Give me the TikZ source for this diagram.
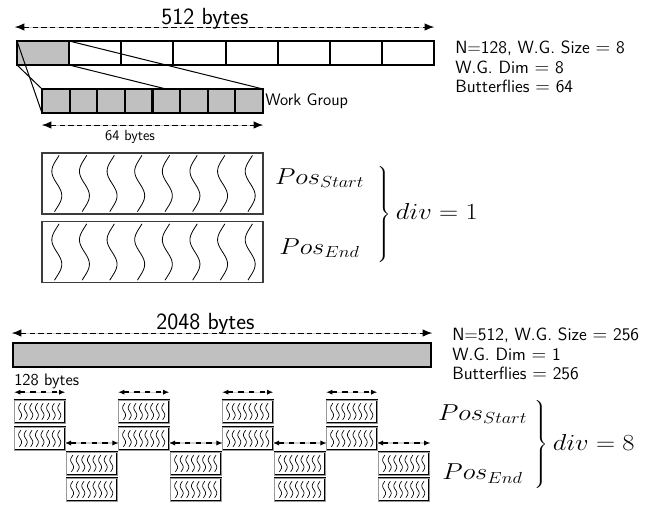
\documentclass[tikz,border=0pt]{standalone}
\usetikzlibrary{arrows.meta,calc}
\definecolor{cellfill}{HTML}{C0C0C0}
\definecolor{dashbg}{HTML}{D2D2D2}
\definecolor{boxline}{HTML}{3C3C3C}
\pgfdeclarelayer{front}
\pgfsetlayers{main,front}
\tikzset{
  cell/.style={draw,line width=1.5pt,inner sep=0pt,outer sep=0pt,
    minimum width=39.1pt,minimum height=18pt},
  wgcell/.style={cell,fill=cellfill,minimum width=20.7pt},
  flybox/.style={draw=boxline,line width=0.9pt,inner sep=0pt,outer sep=0pt,
    minimum width=165.75pt,minimum height=45.75pt},
  minibox/.style={draw=black,double=black!40,line width=0.4pt,double distance=0.5pt,
    inner sep=0pt,outer sep=0pt,minimum width=38pt,minimum height=17pt},
  wave/.style={line width=0.6pt,smooth,samples=25,variable=\t,domain=-1.15:1.15},
  measure/.style={draw=black,line width=0.6pt,dash pattern=on 4pt off 2.5pt,
    preaction={draw=dashbg,solid,-},
    {Latex[length=7pt,width=5.5pt]}-{Latex[length=7pt,width=5.5pt]}},
  gapspan/.style={draw=black,line width=1.2pt,dash pattern=on 4pt off 4pt,
    preaction={draw=dashbg,solid,line width=0.8pt,-},
    {Latex[length=4.5pt,width=4pt]}-{Latex[length=4.5pt,width=4pt]}},
  headline/.style={font=\sffamily\fontsize{17.5}{20}\selectfont,inner sep=0pt},
  note/.style={font=\sffamily\fontsize{13.3}{14.6}\selectfont,align=left,
    anchor=north west,inner sep=0pt},
  tag/.style={font=\sffamily\fontsize{12.5}{15}\selectfont,inner sep=1.5pt},
  smalltag/.style={font=\sffamily\fontsize{11}{13}\selectfont,inner sep=0pt},
  posgroup/.style={font=\fontsize{16.5}{20}\selectfont,inner sep=0pt,anchor=west}
}
\newcommand{\widen}[1]{\scalebox{1.15}[1]{#1}}

\begin{document}
\begin{tikzpicture}[x=0.75pt,y=-0.75pt]
\useasboundingbox (0,0) rectangle (655,508);

% ---- N = 128 : one row of 512 bytes, split in eight work groups
\foreach \i in {0,...,7} {
  \node[cell] (top\i) at ({17+52.125*(\i+0.5)},53) {};
}
\node[cell,fill=cellfill] at (top0) {};

\begin{pgfonlayer}{front}
\foreach \i in {0,...,7} {
  \node[wgcell] (wg\i) at ({42+27.625*(\i+0.5)},101) {};
}
\end{pgfonlayer}

\draw[line width=0.75pt] (top0.north west) -- (wg0.south west);
\draw[line width=0.75pt] (top0.south west) -- (wg0.north west);
\draw[line width=0.75pt] (top0.north east) -- (wg7.north east);
\draw[line width=0.75pt] (top0.south east) -- (wg7.south east);

\coordinate (rowL) at ($(top0.north west)+(-2,-14)$);
\coordinate (rowR) at ($(top7.north east)+(0,-14)$);
\draw[measure] (rowL) -- (rowR);
\node[headline,anchor=base] (rowsize) at (205,24) {512 bytes};

\node[tag,anchor=west] (wgname) at (wg7.east) {Work Group};
\coordinate (wgL) at ($(wg0.south west)+(0,12)$);
\coordinate (wgR) at ($(wg7.south east)+(0,12)$);
\draw[measure] (wgL) -- (wgR);
\node[smalltag] (wgsize) at (130,137) {64 bytes};

\node[note] (infoA) at (455,41) {N=128, W.G. Size $=$ 8\\W.G. Dim $=$ 8\\Butterflies $=$ 64};

% butterflies of the first configuration
\node[flybox] (flyStart) at (152.5,183.5) {};
\node[flybox] (flyEnd) at (152.5,252) {};
\foreach \cy in {183.5,252} {
  \foreach \i in {0,...,7} {
    \draw[wave] plot ({43+27.625*(\i+0.5)+5*sin(180*\t)},{\cy+24.5*\t});
  }
}
\node[posgroup] (divA) at (273,214) {\widen{$\left.\begin{array}{@{}c@{\hspace{9pt}}}
  Pos_{Start}\\[32.5pt] Pos_{End}\end{array}\rule[-31pt]{0pt}{70pt}\right\}div=1$}};

% ---- N = 512 : one row of 2048 bytes
\node[cell,fill=cellfill,minimum width=313.5pt] (bar) at (222,355) {};
\coordinate (barL) at ($(bar.north west)+(-1,-10)$);
\coordinate (barR) at ($(bar.north east)+(1,-10)$);
\draw[measure] (barL) -- (barR);
\node[headline,anchor=base] (barsize) at (205.5,329.5) {2048 bytes};
\node[tag,anchor=base west,inner sep=0pt] (stepsize) at (14,385) {128 bytes};

\node[note] (infoB) at (452,328) {N=512, W.G. Size $=$ 256\\W.G. Dim $=$ 1\\Butterflies $=$ 256};

\foreach \j/\ya/\yb in {0/411.5/438.5,1/463.5/489.5,2/411.5/438.5,3/463.5/489.5,
                        4/411.5/438.5,5/463.5/489.5,6/411.5/438.5,7/463.5/489.5} {
  \node[minibox] (sa\j) at ({14+52*\j+25.75},\ya) {};
  \node[minibox] (sb\j) at ({14+52*\j+25.75},\yb) {};
  \foreach \cy in {\ya,\yb} {
    \foreach \k in {0,...,7} {
      \draw[wave,line width=0.5pt]
        plot ({14+52*\j+3.3+5.6*(\k+0.5)+1.5*sin(180*\t)},{\cy+7.2*\t});
    }
  }
}

\foreach \j in {0,2,4,6} {
  \coordinate (gl\j) at ($(sa\j.north west)+(0,-8)$);
  \coordinate (gr\j) at ($(sa\j.north east)+(0,-8)$);
  \draw[gapspan] (gl\j) -- (gr\j);
}
\foreach \j/\k in {0/2,2/4,4/6} {
  \draw[gapspan] ($(sb\j.east)+(0,4.5)$) -- ($(sb\k.west)+(0,4.5)$);
}
\coordinate (lastR) at ($(sb6.east)+(53,4.5)$);
\draw[gapspan] ($(sb6.east)+(0,4.5)$) -- (lastR);

\node[posgroup] (divB) at (436,445) {\widen{$\left.\begin{array}{@{}c@{\hspace{5pt}}}
  Pos_{Start}\\[24.5pt] Pos_{End}\end{array}\rule[-29pt]{0pt}{66pt}\right\}div=8$}};

\end{tikzpicture}
\end{document}
